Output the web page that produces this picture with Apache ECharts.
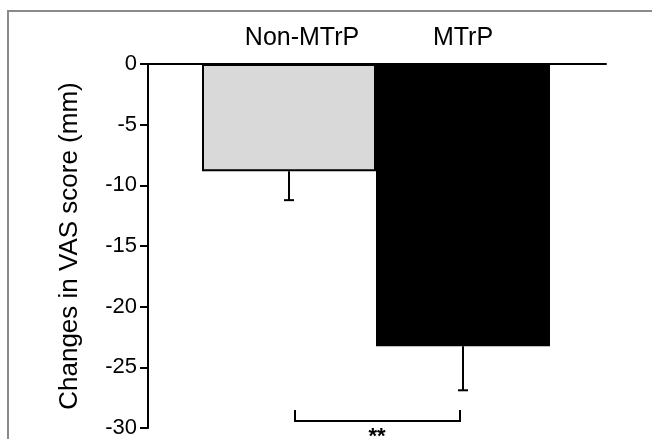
<!DOCTYPE html>
<html>
<head>
<meta charset="utf-8">
<script src="https://cdn.jsdelivr.net/npm/echarts@6/dist/echarts.min.js"></script>
<style>
  html, body { margin: 0; padding: 0; background: #fff; }
  #chart { width: 652px; height: 439px; }
</style>
</head>
<body>
<div id="chart"></div>
<script>
// values
const groups = ['Non-MTrP', 'MTrP'];
const means = [-8.75, -23.0];
const errors = [2.35, 3.6];
const barColors = ['#d9d9d9', '#000000'];
const yTicks = [0, -5, -10, -15, -20, -25, -30];
// significance bracket: [bar a, bar b, bracket level, tick top]
const bracket = [0, 1, -29.1, -28.2];
const sigLabel = '**';

const font = 'Arial, "Liberation Sans", Helvetica, sans-serif';

const myChart = echarts.init(document.getElementById('chart'));

const option = {
  animation: false,
  backgroundColor: '#fff',
  graphic: [
    {
      // grey frame of the original figure (left and top edges only are visible)
      type: 'polyline',
      shape: { points: [[8, 460], [8, 11], [700, 11]] },
      style: { fill: 'none', stroke: '#8a8a8a', lineWidth: 2 },
      silent: true
    }
  ],
  grid: [
    { left: 148, width: 458, top: 64, height: 368 },
    { left: 202, width: 348, top: 64, height: 368 }
  ],
  xAxis: [
    {
      gridIndex: 0,
      type: 'value',
      position: 'top',
      min: 0,
      max: 1,
      axisLine: { show: true, onZero: false, lineStyle: { color: '#000', width: 2 } },
      axisTick: { show: false },
      axisLabel: { show: false },
      splitLine: { show: false }
    },
    {
      gridIndex: 1,
      type: 'category',
      position: 'top',
      data: groups.map((g, i) => i === 0
        ? { value: g, textStyle: { padding: [0, 0, 0, 26] } }
        : g),
      axisLine: { show: false },
      axisTick: { show: false },
      axisLabel: { color: '#000', fontSize: 25, fontFamily: font, margin: 13 }
    }
  ],
  yAxis: [
    {
      gridIndex: 0,
      type: 'value',
      min: yTicks[yTicks.length - 1],
      max: yTicks[0],
      interval: 5,
      name: 'Changes in VAS score (mm)',
      nameLocation: 'middle',
      nameRotate: 90,
      nameGap: 65,
      nameTextStyle: { color: '#000', fontSize: 26, fontFamily: font },
      axisLine: { show: true, lineStyle: { color: '#000', width: 2 } },
      axisTick: { show: true, length: 8, lineStyle: { color: '#000', width: 2 } },
      axisLabel: { color: '#000', fontSize: 22, fontFamily: font, margin: 11 },
      splitLine: { show: false }
    },
    {
      gridIndex: 1,
      type: 'value',
      min: yTicks[yTicks.length - 1],
      max: yTicks[0],
      show: false
    }
  ],
  series: [
    {
      type: 'bar',
      xAxisIndex: 1,
      yAxisIndex: 1,
      barCategoryGap: '0%',
      data: means.map((m, i) => ({
        value: m,
        itemStyle: {
          color: barColors[i],
          borderColor: '#000',
          borderWidth: i === 0 ? 2 : 0
        }
      }))
    },
    {
      // error bars (downward only)
      type: 'custom',
      xAxisIndex: 1,
      yAxisIndex: 1,
      data: means.map((m, i) => [i, m, errors[i]]),
      renderItem: function (params, api) {
        const i = api.value(0);
        const m = api.value(1);
        const e = api.value(2);
        const p0 = api.coord([i, m]);
        const p1 = api.coord([i, m - e]);
        const st = { stroke: '#000', lineWidth: 2 };
        return {
          type: 'group',
          children: [
            { type: 'line', shape: { x1: p0[0], y1: p0[1], x2: p1[0], y2: p1[1] }, style: st },
            { type: 'line', shape: { x1: p1[0] - 5, y1: p1[1], x2: p1[0] + 5, y2: p1[1] }, style: st }
          ]
        };
      },
      z: 5
    },
    {
      // significance bracket
      type: 'custom',
      xAxisIndex: 1,
      yAxisIndex: 1,
      data: [bracket],
      renderItem: function (params, api) {
        const a = api.coord([api.value(0), api.value(3)]);
        const b = api.coord([api.value(0), api.value(2)]);
        const c = api.coord([api.value(1), api.value(2)]);
        const d = api.coord([api.value(1), api.value(3)]);
        return {
          type: 'group',
          children: [
            {
              type: 'polyline',
              shape: { points: [[a[0] + 6, a[1]], [b[0] + 6, b[1]], [c[0] - 3, c[1]], [d[0] - 3, d[1]]] },
              style: { stroke: '#000', lineWidth: 2, fill: 'none' }
            },
            {
              type: 'text',
              style: {
                x: (b[0] + c[0]) / 2 + 1,
                y: b[1] + 5,
                text: sigLabel,
                fill: '#000',
                font: 'bold 22px ' + font,
                align: 'center',
                verticalAlign: 'top'
              }
            }
          ]
        };
      },
      z: 5
    }
  ]
};

myChart.setOption(option);
</script>
</body>
</html>
